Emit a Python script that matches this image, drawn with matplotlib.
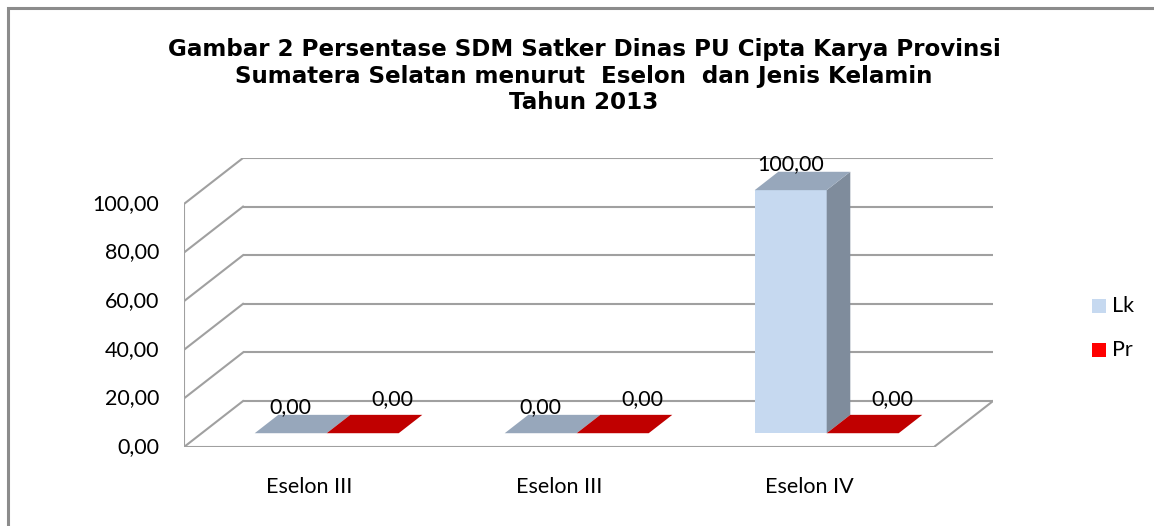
import numpy as np
import matplotlib.pyplot as plt
from matplotlib.patches import Polygon, Rectangle

categories = ["Eselon III", "Eselon III", "Eselon IV"]
lk = [0.0, 0.0, 100.0]
pr = [0.0, 0.0, 0.0]
series = ["Lk", "Pr"]
yticks = [0, 20, 40, 60, 80, 100]

title = ("Gambar 2 Persentase SDM Satker Dinas PU Cipta Karya Provinsi\n"
         "Sumatera Selatan menurut  Eselon  dan Jenis Kelamin\n"
         "Tahun 2013")

# 3d look: depth offset of the back wall (in data units)
DX, DY = 0.236, 18.9
f0, f1 = 0.30, 0.70      # bar front / back depth fraction
bw = 0.288               # bar width in category units

front = {"Lk": "#C6D9F0", "Pr": "#FF0000"}
side = {"Lk": "#7F8C9C", "Pr": "#A00000"}
top = {"Lk": "#97A7BB", "Pr": "#C00000"}
grid_c = "#A0A0A0"

W, H = 1154, 526
fig = plt.figure(figsize=(W / 100, H / 100), dpi=100)
plt.rcParams['font.family'] = ['Lato', 'DejaVu Sans']

# outer chart border (only left/top visible in crop)
fig.patches.append(Rectangle((8 / W, -0.1), 1.2, (H - 8) / H + 0.1,
                             transform=fig.transFigure, fill=False,
                             edgecolor="#8C8C8C", linewidth=2.2))

ax = fig.add_axes([184 / W, 79 / H, (993 - 184) / W, (447 - 158) / H])
ax.set_xlim(-0.5, 2.5 + DX)
ax.set_ylim(0, 100 + DY)
ax.axis("off")

# back wall gridlines and left wall diagonals
for v in yticks:
    ax.plot([-0.5 + DX, 2.5 + DX], [v + DY, v + DY], color=grid_c, lw=1.5,
            solid_capstyle="butt", zorder=1)
    ax.plot([-0.5, -0.5 + DX], [v, v + DY], color=grid_c, lw=1.5, zorder=1)
    ax.text(-0.6, v, f"{v:.2f}".replace(".", ","), ha="right", va="center",
            fontsize=15.5, color="#000000", clip_on=False)
ax.plot([-0.5, -0.5], [0, 100], color=grid_c, lw=1.5, zorder=1)
# floor edges
ax.plot([-0.5, 2.5, 2.5 + DX], [0, 0, DY], color=grid_c, lw=1.5, zorder=1)

x = np.arange(len(categories))
dx0, dy0 = DX * f0, DY * f0
ddx, ddy = DX * (f1 - f0), DY * (f1 - f0)

for s, vals, shift in [("Lk", lk, -bw), ("Pr", pr, 0.0)]:
    lefts = x + dx0 + shift
    ax.bar(lefts, vals, width=bw, bottom=dy0, align="edge",
           color=front[s], edgecolor="none", zorder=3, label=s)
    for xl, v in zip(lefts, vals):
        yt = dy0 + v
        if v > 0:
            ax.add_patch(Polygon([(xl + bw, dy0), (xl + bw + ddx, dy0 + ddy),
                                  (xl + bw + ddx, yt + ddy), (xl + bw, yt)],
                                 closed=True, facecolor=side[s], edgecolor="none", zorder=3))
        ax.add_patch(Polygon([(xl, yt), (xl + bw, yt), (xl + bw + ddx, yt + ddy),
                              (xl + ddx, yt + ddy)],
                             closed=True, facecolor=top[s], edgecolor="none", zorder=3))
        lx = xl + bw / 2 + (0.0 if s == "Lk" else 0.12)
        ly = yt + ddy + (3.0 if s == "Lk" else 6.5)
        ax.text(lx, ly, f"{v:.2f}".replace(".", ","), ha="center", va="center",
                fontsize=15.5, zorder=4)

for xi, c in zip(x, categories):
    ax.text(xi, -16.5, c, ha="center", va="center", fontsize=15.5)

fig.text(584 / W, 1 - 76 / H, title, ha="center", va="center",
         fontsize=16.6, fontweight="bold", family="DejaVu Sans",
         linespacing=1.2)

# legend
for i, s in enumerate(series):
    yy = 1 - (306 + 44 * i) / H
    fig.patches.append(Rectangle((1092 / W, yy - 7 / H), 14 / W, 14 / H,
                                 transform=fig.transFigure,
                                 facecolor=front[s], edgecolor="none"))
    fig.text(1112 / W, yy, s, ha="left", va="center", fontsize=15.5)

fig.savefig("out.png", dpi=100)
